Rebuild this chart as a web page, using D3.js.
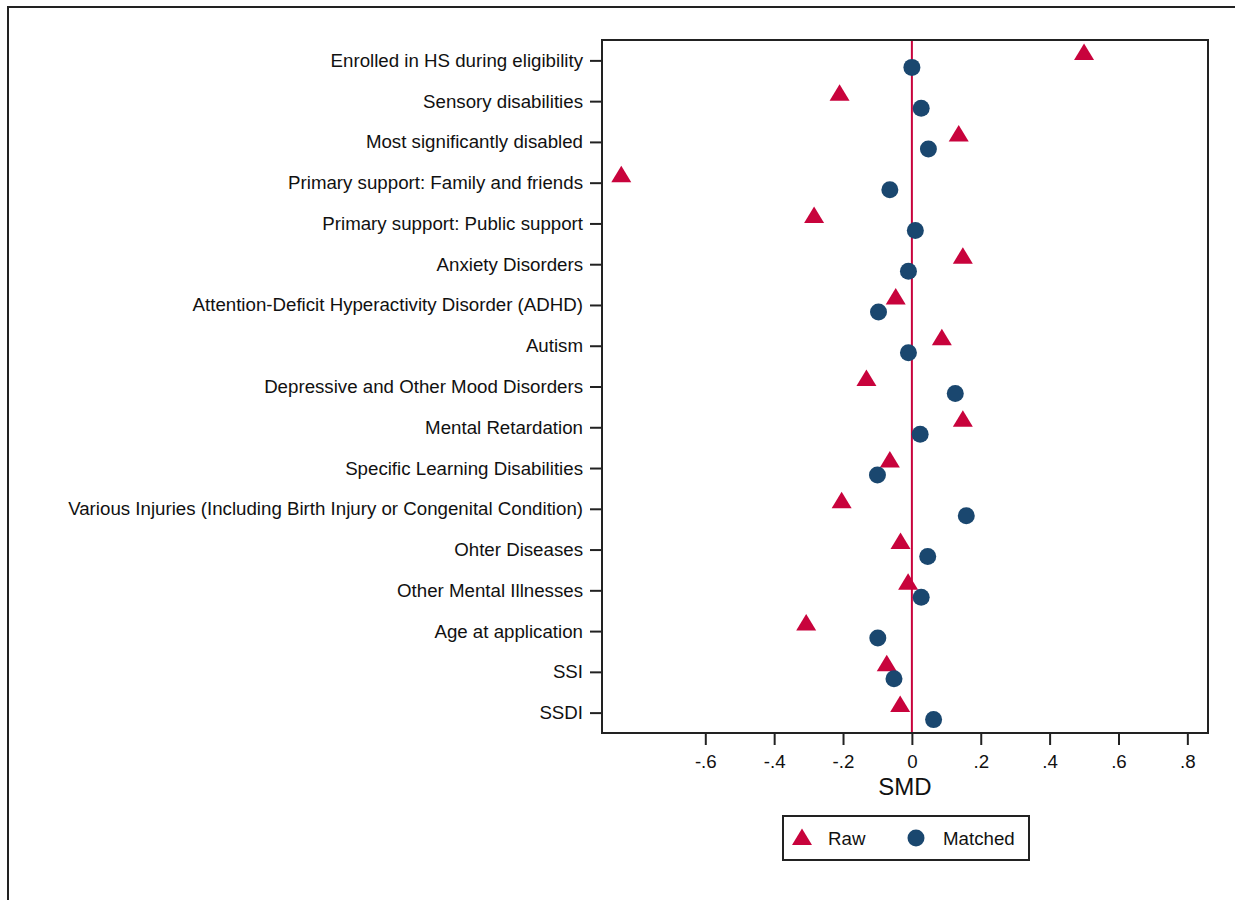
<!DOCTYPE html>
<html>
<head>
<meta charset="utf-8">
<script src="https://cdn.jsdelivr.net/npm/d3@7/dist/d3.min.js"></script>
<style>
  html, body { margin: 0; padding: 0; background: #fff; }
  svg { display: block; font-family: "Liberation Sans", Arial, sans-serif; }
</style>
</head>
<body>
<svg id="chart" width="1235" height="900"></svg>
<script>
// Covariates, top to bottom
const categories = [
  "Enrolled in HS during eligibility",
  "Sensory disabilities",
  "Most significantly disabled",
  "Primary support: Family and friends",
  "Primary support: Public support",
  "Anxiety Disorders",
  "Attention-Deficit Hyperactivity Disorder (ADHD)",
  "Autism",
  "Depressive and Other Mood Disorders",
  "Mental Retardation",
  "Specific Learning Disabilities",
  "Various Injuries (Including Birth Injury or Congenital Condition)",
  "Ohter Diseases",
  "Other Mental Illnesses",
  "Age at application",
  "SSI",
  "SSDI"
];

// Standardized mean differences before matching
const rawSMD = [0.50, -0.21, 0.136, -0.844, -0.284, 0.148, -0.047, 0.087, -0.132,
                0.148, -0.064, -0.204, -0.033, -0.011, -0.307, -0.073, -0.034];

// Standardized mean differences after matching
const matchedSMD = [0.0, 0.027, 0.048, -0.064, 0.010, -0.010, -0.097, -0.010, 0.126,
                    0.024, -0.100, 0.158, 0.046, 0.027, -0.099, -0.052, 0.063];

const xTicks = [-0.6, -0.4, -0.2, 0, 0.2, 0.4, 0.6, 0.8];
const xTickLabels = ["-.6", "-.4", "-.2", "0", ".2", ".4", ".6", ".8"];

const legendItems = ["Raw", "Matched"];

const RED = "#c8033c";
const NAVY = "#1a476f";
const INK = "#111";
const FONT = 18.7;

const svg = d3.select("#chart");

svg.append("rect").attr("width", 1235).attr("height", 900).attr("fill", "#fff");

// outer graph border
svg.append("rect")
  .attr("x", 8).attr("y", 7)
  .attr("width", 1300).attr("height", 1000)
  .attr("fill", "none").attr("stroke", "#222").attr("stroke-width", 2);

const plot = { left: 602, right: 1208, top: 40, bottom: 733 };

const x = d3.scaleLinear().domain([-0.9, 0.86]).range([plot.left, plot.right]);
const y = d3.scalePoint().domain(categories).range([plot.top, plot.bottom]).padding(0.5);

// y axis: ticks and labels on the left
const yAxis = d3.axisLeft(y).tickSize(12).tickPadding(7);
const gy = svg.append("g").attr("transform", `translate(${plot.left},0)`).call(yAxis);
gy.select(".domain").remove();
gy.selectAll(".tick line").attr("stroke", "#222").attr("stroke-width", 2);
gy.selectAll(".tick text")
  .attr("fill", INK).attr("font-size", FONT)
  .attr("font-family", "'Liberation Sans', Arial, sans-serif");

// x axis
const xAxis = d3.axisBottom(x).tickValues(xTicks)
  .tickFormat((d, i) => xTickLabels[i]).tickSize(12).tickPadding(10);
const gx = svg.append("g").attr("transform", `translate(0,${plot.bottom})`).call(xAxis);
gx.select(".domain").remove();
gx.selectAll(".tick line").attr("stroke", "#222").attr("stroke-width", 2);
gx.selectAll(".tick text")
  .attr("fill", INK).attr("font-size", FONT)
  .attr("font-family", "'Liberation Sans', Arial, sans-serif");

// axis title
svg.append("text")
  .attr("x", (plot.left + plot.right) / 2).attr("y", 795)
  .attr("text-anchor", "middle").attr("font-size", 24).attr("fill", INK)
  .text("SMD");

// reference line at zero
svg.append("line")
  .attr("x1", x(0)).attr("x2", x(0))
  .attr("y1", plot.top).attr("y2", plot.bottom)
  .attr("stroke", RED).attr("stroke-width", 2);

// plot frame
svg.append("rect")
  .attr("x", plot.left).attr("y", plot.top)
  .attr("width", plot.right - plot.left).attr("height", plot.bottom - plot.top)
  .attr("fill", "none").attr("stroke", "#222").attr("stroke-width", 2);

const triPath = (cx, base) => `M${cx},${base - 16.5}L${cx + 10},${base}L${cx - 10},${base}Z`;

// raw markers sit just above each row
svg.append("g").selectAll("path")
  .data(categories)
  .join("path")
  .attr("d", (c, i) => triPath(x(rawSMD[i]), y(c) - 0.5))
  .attr("fill", RED);

// matched markers sit just below each row
svg.append("g").selectAll("circle")
  .data(categories)
  .join("circle")
  .attr("cx", (c, i) => x(matchedSMD[i]))
  .attr("cy", c => y(c) + 7)
  .attr("r", 8.5)
  .attr("fill", NAVY);

// legend
const lg = svg.append("g");
lg.append("rect")
  .attr("x", 783).attr("y", 816).attr("width", 246).attr("height", 44)
  .attr("fill", "#fff").attr("stroke", "#222").attr("stroke-width", 2);
lg.append("path").attr("d", triPath(802, 845)).attr("fill", RED);
lg.append("text").attr("x", 828).attr("y", 845).attr("font-size", FONT).attr("fill", INK).text(legendItems[0]);
lg.append("circle").attr("cx", 916).attr("cy", 838).attr("r", 8.5).attr("fill", NAVY);
lg.append("text").attr("x", 943).attr("y", 845).attr("font-size", FONT).attr("fill", INK).text(legendItems[1]);
</script>
</body>
</html>
